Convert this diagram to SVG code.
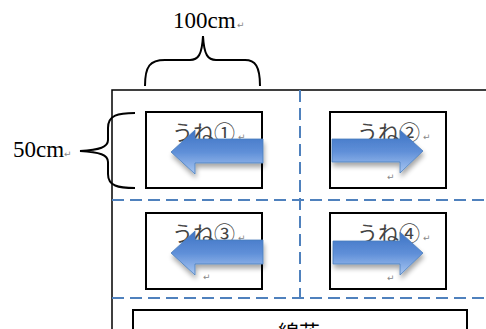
<svg xmlns="http://www.w3.org/2000/svg" width="486" height="329" viewBox="0 0 486 329">
<defs>
<linearGradient id="ag" x1="0" y1="0" x2="0" y2="1">
<stop offset="0" stop-color="#3d73c4"/>
<stop offset="0.5" stop-color="#5f8fd8"/>
<stop offset="1" stop-color="#a9c7f2"/>
</linearGradient>
<filter id="sh" x="-20%" y="-20%" width="150%" height="160%">
<feGaussianBlur in="SourceAlpha" stdDeviation="2.5"/>
<feOffset dx="1" dy="4"/>
<feComponentTransfer><feFuncA type="linear" slope="0.35"/></feComponentTransfer>
<feMerge><feMergeNode/><feMergeNode in="SourceGraphic"/></feMerge>
</filter>
</defs>
<style>
.frame{fill:none;stroke:#000;stroke-width:1.5}
.dash{fill:none;stroke:#4f81bd;stroke-width:2;stroke-dasharray:12 6}
.box{fill:#fff;stroke:#000;stroke-width:2}
.brace{fill:none;stroke:#000;stroke-width:2}
.dim{font-family:"Liberation Serif","Times New Roman",serif;font-size:23px;fill:#000}
.lbl{font-family:"Noto Sans CJK JP","Noto Sans",sans-serif;font-size:21px;fill:#444}
.ret{font-family:"DejaVu Sans",sans-serif;font-size:9px;fill:#888}
.arrow{fill:url(#ag);stroke:#4a7ebb;stroke-width:0.8;filter:url(#sh)}
</style>
<rect width="486" height="329" fill="#fff"/>
<g id="frame">
<path class="frame" d="M112,329 V90 H486"/>
</g>
<g id="connectors">
<path class="dash" d="M300,90 V298"/>
<path class="dash" d="M112,200 H486"/>
<path class="dash" d="M112,298 H486"/>
</g>
<g id="dim-100">
<path class="brace" d="M145,86 C145,66 150,60 165,60 H190 C198,60 202,55 203,36 C204,55 208,60 216,60 H245 C255,60 260,66 260,86"/>
<text class="dim" x="173" y="28">100cm</text>
<text class="ret" x="237" y="28">↵</text>
</g>
<g id="dim-50">
<path class="brace" d="M135,113 C118,113 108,115 108,128 V140 C108,147 100,150 80,151 C100,152 108,155 108,162 V174 C108,186 118,188 135,188"/>
<text class="dim" x="13" y="157">50cm</text>
<text class="ret" x="64" y="157">↵</text>
</g>
<g id="une1">
<rect class="box" x="146" y="112" width="116" height="76"/>
<text class="lbl" x="172" y="140">うね①</text>
<text class="ret" x="238" y="140">↵</text>
<path class="arrow" d="M263,139 H195 V130 L171,152 L195,174 V163 H263 Z"/>
</g>
<g id="une2">
<rect class="box" x="330" y="112" width="116" height="76"/>
<text class="lbl" x="357" y="140">うね②</text>
<text class="ret" x="423" y="140">↵</text>
<text class="ret" x="387" y="180">↵</text>
<path class="arrow" d="M332,139 H400 V130 L423,151 L400,173 V162 H332 Z"/>
</g>
<g id="une3">
<rect class="box" x="146" y="213" width="116" height="76"/>
<text class="lbl" x="172" y="241">うね③</text>
<text class="ret" x="238" y="241">↵</text>
<text class="ret" x="203" y="280">↵</text>
<path class="arrow" d="M263,240 H195 V231 L171,253 L195,275 V264 H263 Z"/>
</g>
<g id="une4">
<rect class="box" x="330" y="213" width="116" height="76"/>
<text class="lbl" x="357" y="241">うね④</text>
<text class="ret" x="423" y="241">↵</text>
<text class="ret" x="387" y="281">↵</text>
<path class="arrow" d="M333,241 H400 V232 L423,253 L400,275 V264 H333 Z"/>
</g>
<g id="bottom">
<rect class="box" x="133" y="310" width="334" height="40"/>
<text class="lbl" x="278" y="340" fill="#000" style="fill:#000">綿花</text>
</g>
</svg>
